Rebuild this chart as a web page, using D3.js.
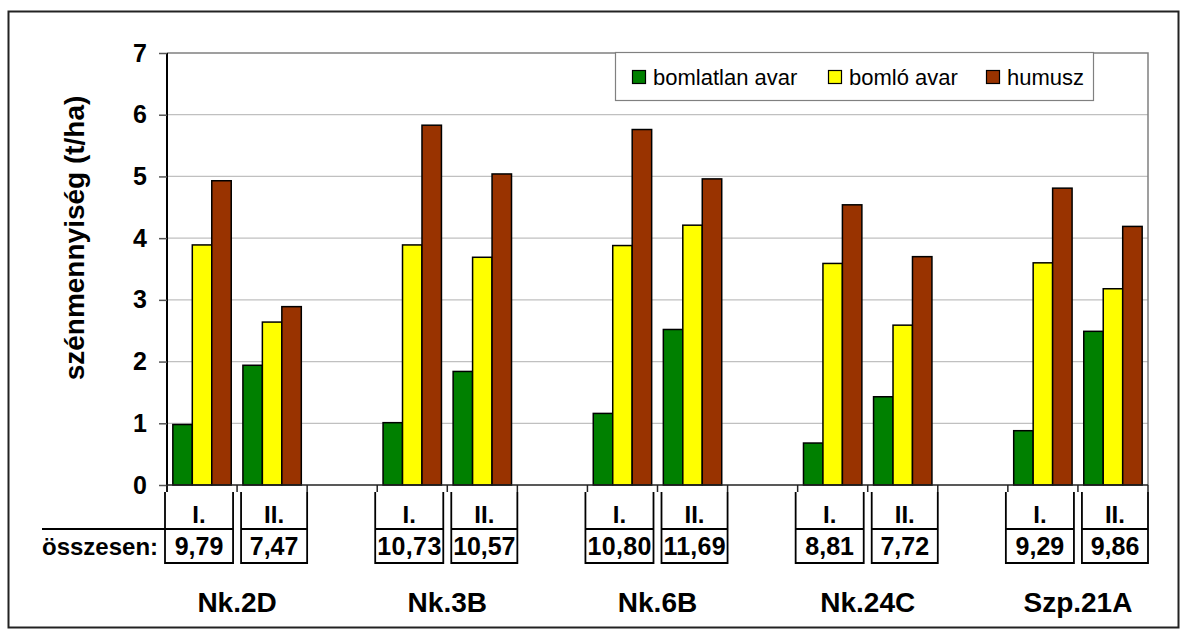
<!DOCTYPE html>
<html>
<head>
<meta charset="utf-8">
<script src="https://cdn.jsdelivr.net/npm/d3@7"></script>
<style>
  body { margin: 0; background: #fff; }
  text { font-family: Arial, "Liberation Sans", sans-serif; }
</style>
</head>
<body>
<div id="chart"></div>
<script>
// data
const groups = ["Nk.2D", "Nk.3B", "Nk.6B", "Nk.24C", "Szp.21A"];
const periods = ["I.", "II."];
const series = ["bomlatlan avar", "bomló avar", "humusz"];
const seriesColors = ["#008000", "#ffff00", "#993300"];
const bomlatlan = [0.98, 1.94, 1.01, 1.84, 1.16, 2.52, 0.68, 1.43, 0.88, 2.49];
const bomlo = [3.89, 2.64, 3.89, 3.69, 3.88, 4.21, 3.59, 2.59, 3.60, 3.18];
const humusz = [4.93, 2.89, 5.83, 5.04, 5.76, 4.96, 4.54, 3.70, 4.81, 4.19];
const totals = ["9,79", "7,47", "10,73", "10,57", "10,80", "11,69", "8,81", "7,72", "9,29", "9,86"];
const yTicks = [0, 1, 2, 3, 4, 5, 6, 7];

const W = 1187, H = 637;
const plot = {left: 167, right: 1148, top: 53, bottom: 485};

const svg = d3.select("#chart").append("svg")
    .attr("width", W)
    .attr("height", H);

// outer frame
svg.append("rect")
    .attr("x", 8.5).attr("y", 11.5)
    .attr("width", 1170).attr("height", 616)
    .attr("fill", "#fff")
    .attr("stroke", "#222")
    .attr("stroke-width", 2);

// slots: I, II and a gap after every group but the last
let slots = [];
groups.forEach((g, i) => {
    periods.forEach(p => slots.push(g + "|" + p));
    if (i < groups.length - 1) slots.push("gap" + i);
});

// rows: one per bar position
let rows = [];
groups.forEach((g, gi) => {
    periods.forEach((p, pi) => {
        let k = gi * 2 + pi;
        rows.push({
            key: g + "|" + p,
            group: g,
            period: p,
            values: [bomlatlan[k], bomlo[k], humusz[k]],
            total: totals[k]
        });
    });
});

const x = d3.scaleBand().domain(slots).range([plot.left, plot.right]);
const xs = d3.scaleBand().domain(series).range([0, x.bandwidth()]).paddingOuter(0.3);
const y = d3.scaleLinear().domain([0, 7]).range([plot.bottom, plot.top]);

// gridlines
svg.append("g")
    .selectAll("line")
    .data(yTicks.filter(d => d > 0 && d < 7))
    .join("line")
    .attr("x1", plot.left).attr("x2", plot.right)
    .attr("y1", d => y(d)).attr("y2", d => y(d))
    .attr("stroke", "#c0c0c0")
    .attr("stroke-width", 1.3);

// plot border (top and right)
svg.append("path")
    .attr("d", `M${plot.left},${y(7)}H${plot.right}V${plot.bottom}`)
    .attr("fill", "none")
    .attr("stroke", "#808080")
    .attr("stroke-width", 1.5);

// bars
const barG = svg.append("g")
    .selectAll("g")
    .data(rows)
    .join("g")
    .attr("transform", d => `translate(${x(d.key)},0)`);

barG.selectAll("rect")
    .data(d => d.values.map((v, i) => ({s: series[i], v: v, c: seriesColors[i]})))
    .join("rect")
    .attr("x", d => xs(d.s))
    .attr("width", xs.bandwidth())
    .attr("y", d => y(d.v))
    .attr("height", d => y(0) - y(d.v))
    .attr("fill", d => d.c)
    .attr("stroke", "#000")
    .attr("stroke-width", 1.5);

// y axis
const yAxis = svg.append("g")
    .attr("transform", `translate(${plot.left},0)`)
    .call(d3.axisLeft(y).tickValues(yTicks).tickFormat(d3.format("d")).tickSize(8).tickPadding(12));
yAxis.select(".domain").attr("stroke", "#000").attr("stroke-width", 2)
    .attr("d", `M0,${y(7)}V${plot.bottom + 7}`);
yAxis.selectAll(".tick line").attr("stroke", "#555").attr("stroke-width", 1.5);
yAxis.selectAll(".tick text")
    .attr("font-size", 25)
    .attr("font-weight", "bold")
    .attr("fill", "#000")
    .attr("font-family", "Arial, 'Liberation Sans', sans-serif");

// x axis line and boundary ticks
svg.append("line")
    .attr("x1", plot.left).attr("x2", plot.right)
    .attr("y1", plot.bottom).attr("y2", plot.bottom)
    .attr("stroke", "#222").attr("stroke-width", 1.5);

svg.append("g")
    .selectAll("line")
    .data(slots.map(s => x(s)).concat([x.range()[1]]))
    .join("line")
    .attr("x1", d => d).attr("x2", d => d)
    .attr("y1", plot.bottom).attr("y2", plot.bottom + 7)
    .attr("stroke", "#222").attr("stroke-width", 1.5);

// y axis title
svg.append("text")
    .attr("transform", "translate(84,238) rotate(-90)")
    .attr("text-anchor", "middle")
    .attr("font-size", 28)
    .attr("font-weight", "bold")
    .text("szénmennyiség (t/ha)");

// table under the axis
const boxTop = 492, boxMid = 529, boxBottom = 563;
const table = svg.append("g");

rows.forEach(d => {
    let x0 = x(d.key), x1 = x0 + x.bandwidth();
    let l = d.period === "I." ? x0 - 2 : x0 + 4;
    let r = d.period === "I." ? x1 - 4 : x1;
    table.append("path")
        .attr("d", `M${l},${boxTop}V${boxBottom}H${r}V${boxTop}M${l},${boxMid}H${r}`)
        .attr("fill", "none")
        .attr("stroke", "#000")
        .attr("stroke-width", 1.8);
    table.append("text")
        .attr("x", (l + r) / 2)
        .attr("y", 523)
        .attr("text-anchor", "middle")
        .attr("font-size", 24)
        .attr("font-weight", "bold")
        .text(d.period);
    table.append("text")
        .attr("x", (l + r) / 2)
        .attr("y", 555)
        .attr("text-anchor", "middle")
        .attr("font-size", 25)
        .attr("font-weight", "bold")
        .attr("textLength", d.total.length > 4 ? r - l - 4 : null)
        .text(d.total);
});

// row label line
table.append("line")
    .attr("x1", 42).attr("x2", x(rows[0].key) - 2)
    .attr("y1", boxMid).attr("y2", boxMid)
    .attr("stroke", "#000").attr("stroke-width", 1.8);

table.append("text")
    .attr("x", 42)
    .attr("y", 555)
    .attr("font-size", 24)
    .attr("font-weight", "bold")
    .text("összesen:");

// group labels
svg.append("g")
    .selectAll("text")
    .data(groups)
    .join("text")
    .attr("x", g => (x(g + "|I.") + x(g + "|II.") + x.bandwidth()) / 2)
    .attr("y", 612)
    .attr("text-anchor", "middle")
    .attr("font-size", 28)
    .attr("font-weight", "bold")
    .text(g => g);

// legend
const legend = svg.append("g");
legend.append("rect")
    .attr("x", 615.5).attr("y", 52.5)
    .attr("width", 478).attr("height", 48)
    .attr("fill", "#fff")
    .attr("stroke", "#808080")
    .attr("stroke-width", 1.2);

const legendX = [632, 828, 986];
series.forEach((s, i) => {
    legend.append("rect")
        .attr("x", legendX[i] + 0.5).attr("y", 70.5)
        .attr("width", 13).attr("height", 13)
        .attr("fill", seriesColors[i])
        .attr("stroke", "#000")
        .attr("stroke-width", 1.2);
    legend.append("text")
        .attr("x", legendX[i] + 21)
        .attr("y", 85)
        .attr("font-size", 22)
        .text(s);
});
</script>
</body>
</html>
